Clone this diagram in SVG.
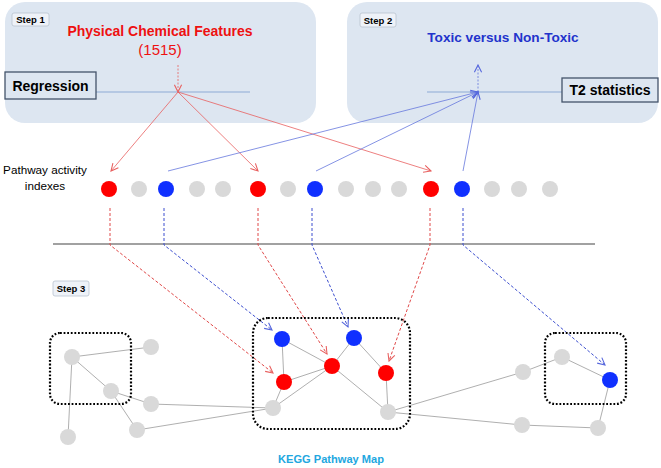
<svg xmlns="http://www.w3.org/2000/svg" width="661" height="468" viewBox="0 0 661 468">
<style>
text{font-family:"Liberation Sans",Arial,sans-serif}
.panel{fill:#dde6f1}
.step{fill:#eef2f8;stroke:#b9c3cf;stroke-width:0.8}
.steptxt{font-size:9.5px;font-weight:bold;fill:#000}
.lbl{fill:#dde6f1;stroke:#44546a;stroke-width:1.3}
.lbltxt{font-size:14px;font-weight:bold;fill:#000}
.hl{stroke:#8eaad6;stroke-width:1.2}
.rl{stroke:#e8605f;stroke-width:0.8;fill:none}
.bl{stroke:#6677dd;stroke-width:0.8;fill:none}
.rd{stroke:#e04848;stroke-width:1;stroke-dasharray:3 2;fill:none}
.bd{stroke:#3d4fcf;stroke-width:1;stroke-dasharray:3 2;fill:none}
.edge{stroke:#9a9a9a;stroke-width:0.8}
.dot{fill:none;stroke:#000;stroke-width:2.2;stroke-dasharray:1.8 1.8}
.g{fill:#d9d9d9}
.r{fill:#ff0000}
.b{fill:#1030ff}
</style>
<defs>
<marker id="ar" viewBox="0 0 10 10" refX="9" refY="5" markerWidth="9" markerHeight="9" markerUnits="userSpaceOnUse" orient="auto"><path d="M1,1 L9,5 L1,9" fill="none" stroke="#e8605f" stroke-width="1.2"/></marker>
<marker id="ab" viewBox="0 0 10 10" refX="9" refY="5" markerWidth="9" markerHeight="9" markerUnits="userSpaceOnUse" orient="auto"><path d="M1,1 L9,5 L1,9" fill="none" stroke="#5566dd" stroke-width="1.2"/></marker>
</defs>

<g id="step1">
<rect class="panel" x="5" y="2" width="311" height="121" rx="20"/>
<rect class="step" x="12" y="13" width="37" height="13" rx="2"/>
<text class="steptxt" x="30.5" y="23" text-anchor="middle">Step 1</text>
<text x="160" y="36" text-anchor="middle" font-size="14" font-weight="bold" fill="#ee1111">Physical Chemical Features</text>
<text x="160" y="55" text-anchor="middle" font-size="15" fill="#ee1111">(1515)</text>
<line class="hl" x1="96" y1="92" x2="250" y2="92"/>
<rect class="lbl" x="5" y="72" width="91" height="27"/>
<text class="lbltxt" x="50.5" y="91" text-anchor="middle">Regression</text>
</g>

<g id="step2">
<rect class="panel" x="347" y="2" width="311" height="121" rx="20"/>
<rect class="step" x="360" y="13" width="36" height="14" rx="2"/>
<text class="steptxt" x="378" y="23.5" text-anchor="middle">Step 2</text>
<text x="503" y="42" text-anchor="middle" font-size="13.6" font-weight="bold" fill="#2233cc">Toxic versus Non-Toxic</text>
<line class="hl" x1="427" y1="92" x2="562" y2="92"/>
<rect class="lbl" x="562" y="78" width="96" height="24" fill="#e6ecf5"/>
<text class="lbltxt" x="610" y="95" text-anchor="middle">T2 statistics</text>
</g>

<g id="indexes-label">
<text x="45" y="174" text-anchor="middle" font-size="11.7" fill="#000">Pathway activity</text>
<text x="45" y="190" text-anchor="middle" font-size="11.7" fill="#000">indexes</text>
</g>

<line id="divider" x1="53" y1="244" x2="595" y2="244" stroke="#444" stroke-width="1.2"/>

<g id="step3">
<rect class="step" x="53" y="281" width="36" height="15" rx="2"/>
<text class="steptxt" x="71" y="292" text-anchor="middle">Step 3</text>
</g>

<g id="connectors">
<line class="rl" x1="178" y1="65" x2="178" y2="92" stroke-dasharray="2 1.5" marker-end="url(#ar)"/>
<line class="rl" x1="178" y1="92" x2="111" y2="171" marker-end="url(#ar)"/>
<line class="rl" x1="178" y1="92" x2="258" y2="171" marker-end="url(#ar)"/>
<line class="rl" x1="178" y1="92" x2="431" y2="171" marker-end="url(#ar)"/>
<line class="bl" x1="478" y1="92" x2="478" y2="65" stroke-dasharray="2 1.5" marker-end="url(#ab)"/>
<line class="bl" x1="168" y1="171" x2="478" y2="92" marker-end="url(#ab)"/>
<line class="bl" x1="316" y1="171" x2="478" y2="92" marker-end="url(#ab)"/>
<line class="bl" x1="463" y1="171" x2="478" y2="92" marker-end="url(#ab)"/>

<polyline class="rd" points="110,208 110,245 273,373" marker-end="url(#ar)"/>
<polyline class="bd" points="164,208 164,245 272,330" marker-end="url(#ab)"/>
<polyline class="rd" points="258,208 258,245 327,354" marker-end="url(#ar)"/>
<polyline class="bd" points="312,208 312,245 348,327" marker-end="url(#ab)"/>
<polyline class="rd" points="430,208 430,245 389,361" marker-end="url(#ar)"/>
<polyline class="bd" points="463,208 463,245 605,365" marker-end="url(#ab)"/>

<line class="edge" x1="72" y1="357" x2="151" y2="347"/>
<line class="edge" x1="72" y1="357" x2="111" y2="391"/>
<line class="edge" x1="72" y1="357" x2="68" y2="437"/>
<line class="edge" x1="111" y1="391" x2="151" y2="404"/>
<line class="edge" x1="111" y1="391" x2="137" y2="430"/>
<line class="edge" x1="151" y1="404" x2="273" y2="408"/>
<line class="edge" x1="137" y1="430" x2="273" y2="408"/>
<line class="edge" x1="282" y1="339" x2="284" y2="382"/>
<line class="edge" x1="282" y1="339" x2="332" y2="366"/>
<line class="edge" x1="284" y1="382" x2="332" y2="366"/>
<line class="edge" x1="284" y1="382" x2="273" y2="408"/>
<line class="edge" x1="273" y1="408" x2="332" y2="366"/>
<line class="edge" x1="332" y1="366" x2="354" y2="338"/>
<line class="edge" x1="332" y1="366" x2="388" y2="412"/>
<line class="edge" x1="354" y1="338" x2="386" y2="373"/>
<line class="edge" x1="386" y1="373" x2="388" y2="412"/>
<line class="edge" x1="388" y1="412" x2="523" y2="372"/>
<line class="edge" x1="388" y1="412" x2="522" y2="425"/>
<line class="edge" x1="523" y1="372" x2="562" y2="357"/>
<line class="edge" x1="562" y1="357" x2="610" y2="380"/>
<line class="edge" x1="610" y1="380" x2="598" y2="428"/>
<line class="edge" x1="522" y1="425" x2="598" y2="428"/>
</g>

<g id="pathway-indexes">
<circle class="r" cx="109" cy="189" r="8"/>
<circle class="g" cx="139" cy="189" r="8"/>
<circle class="b" cx="166" cy="189" r="8"/>
<circle class="g" cx="197" cy="189" r="8"/>
<circle class="g" cx="223" cy="189" r="8"/>
<circle class="r" cx="258" cy="189" r="8"/>
<circle class="g" cx="288" cy="189" r="8"/>
<circle class="b" cx="315" cy="189" r="8"/>
<circle class="g" cx="346" cy="189" r="8"/>
<circle class="g" cx="373" cy="189" r="8"/>
<circle class="g" cx="399" cy="189" r="8"/>
<circle class="r" cx="431" cy="189" r="8"/>
<circle class="b" cx="462" cy="189" r="8"/>
<circle class="g" cx="492" cy="189" r="8"/>
<circle class="g" cx="519" cy="189" r="8"/>
<circle class="g" cx="550" cy="189" r="8"/>
</g>

<g id="cluster-left">
<rect class="dot" x="50" y="333" width="81" height="71" rx="10"/>
<circle class="g" cx="72" cy="357" r="8"/>
<circle class="g" cx="151" cy="347" r="8"/>
<circle class="g" cx="111" cy="391" r="8"/>
<circle class="g" cx="151" cy="404" r="8"/>
<circle class="g" cx="137" cy="430" r="8"/>
<circle class="g" cx="68" cy="437" r="8"/>
</g>

<g id="cluster-center">
<rect class="dot" x="253" y="318" width="157" height="111" rx="15"/>
<circle class="b" cx="282" cy="339" r="8"/>
<circle class="b" cx="354" cy="338" r="8"/>
<circle class="r" cx="284" cy="382" r="8"/>
<circle class="r" cx="332" cy="366" r="8"/>
<circle class="r" cx="386" cy="373" r="8"/>
<circle class="g" cx="273" cy="408" r="8"/>
<circle class="g" cx="388" cy="412" r="8"/>
</g>

<g id="cluster-right">
<rect class="dot" x="545" y="333" width="81" height="71" rx="10"/>
<circle class="g" cx="523" cy="372" r="8"/>
<circle class="g" cx="562" cy="357" r="8"/>
<circle class="b" cx="610" cy="380" r="8"/>
<circle class="g" cx="522" cy="425" r="8"/>
<circle class="g" cx="598" cy="428" r="8"/>
</g>

<text id="kegg" x="331" y="463" text-anchor="middle" font-size="11.1" font-weight="bold" fill="#22a7df">KEGG Pathway Map</text>
</svg>
